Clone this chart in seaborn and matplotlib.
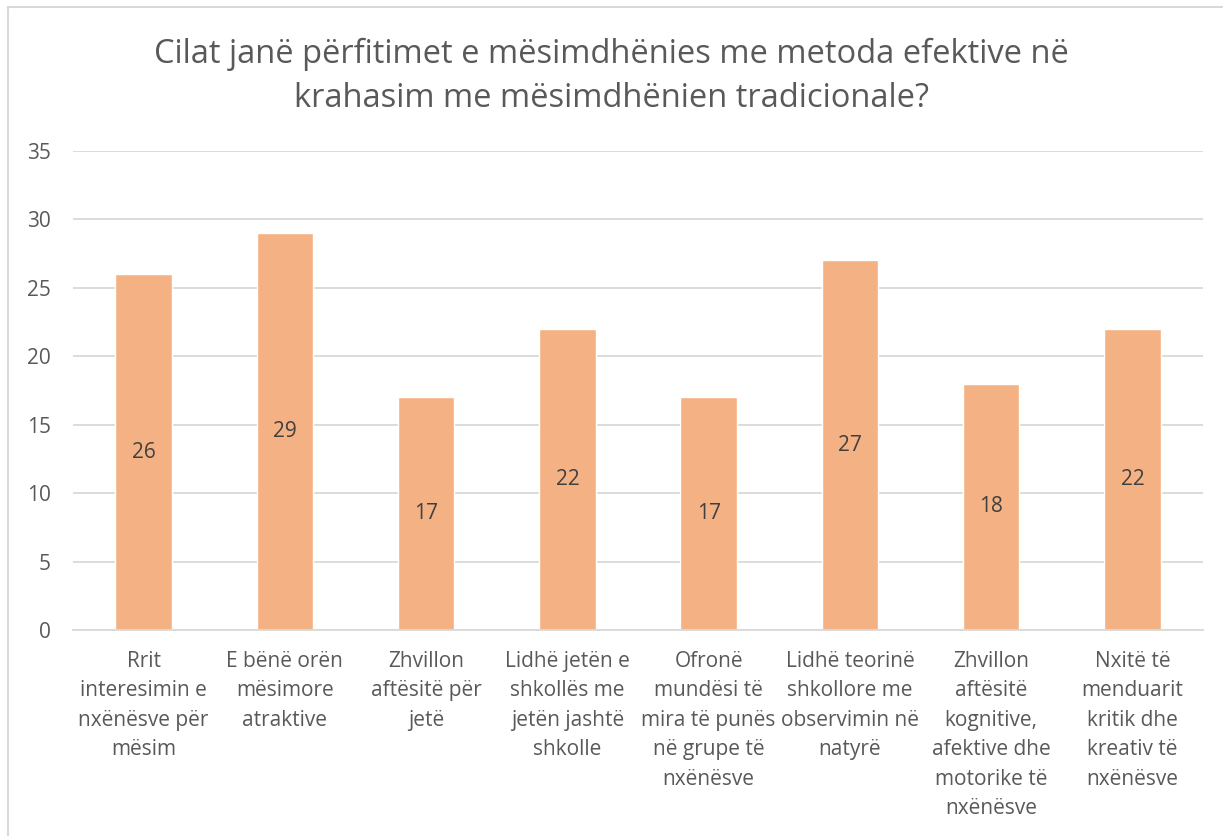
import pandas as pd
import seaborn as sns
import matplotlib.pyplot as plt
from matplotlib.patches import Rectangle

sns.set_style("white")
plt.rcParams['font.family'] = ['Open Sans', 'DejaVu Sans']

# data
categories = [
    "Rrit\ninteresimin e\nnxënësve për\nmësim",
    "E bënë orën\nmësimore\natraktive",
    "Zhvillon\naftësitë për\njetë",
    "Lidhë jetën e\nshkollës me\njetën jashtë\nshkolle",
    "Ofronë\nmundësi të\nmira të punës\nnë grupe të\nnxënësve",
    "Lidhë teorinë\nshkollore me\nobservimin në\nnatyrë",
    "Zhvillon\naftësitë\nkognitive,\nafektive dhe\nmotorike të\nnxënësve",
    "Nxitë të\nmenduarit\nkritik dhe\nkreativ të\nnxënësve",
]
values = [26, 29, 17, 22, 17, 27, 18, 22]
yticks = [0, 5, 10, 15, 20, 25, 30, 35]

df = pd.DataFrame({"cat": categories, "val": values})

fig = plt.figure(figsize=(12.23, 8.36), dpi=100)
ax = fig.add_axes([0.0597, 0.2464, 0.924, 0.573])

sns.barplot(data=df, x="cat", y="val", color="#F4B183", saturation=1,
            width=0.40, ax=ax)

ax.set_ylim(0, 35)
ax.set_yticks(yticks)
ax.yaxis.grid(True, color="#D9D9D9", linewidth=1.3)
ax.set_axisbelow(True)
for s in ["top", "right", "left"]:
    ax.spines[s].set_visible(False)
ax.spines["bottom"].set_color("#D9D9D9")
ax.spines["bottom"].set_linewidth(1.3)
ax.set_xlabel("")
ax.set_ylabel("")
ax.tick_params(axis="both", length=0, labelsize=15, colors="#595959")
ax.tick_params(axis="x", pad=15)
ax.tick_params(axis="y", pad=16)
for lbl in ax.get_xticklabels():
    lbl.set_linespacing(1.53)

# value labels in the middle of each bar
for p, v in zip(ax.patches, values):
    ax.text(p.get_x() + p.get_width() / 2, v / 2, str(v),
            ha="center", va="center", fontsize=15, color="#404040")

fig.suptitle("Cilat janë përfitimet e mësimdhënies me metoda efektive në\n"
             "krahasim me mësimdhënien tradicionale?",
             y=0.955, fontsize=23.5, color="#595959", linespacing=1.45,
             fontweight=350)

# chart border
fig.patches.append(Rectangle((8 / 1223, -0.1), 1.2, 1.1 - 7 / 836,
                             transform=fig.transFigure, fill=False,
                             edgecolor="#D9D9D9", linewidth=1.5))

plt.savefig("out.png", dpi=100)
